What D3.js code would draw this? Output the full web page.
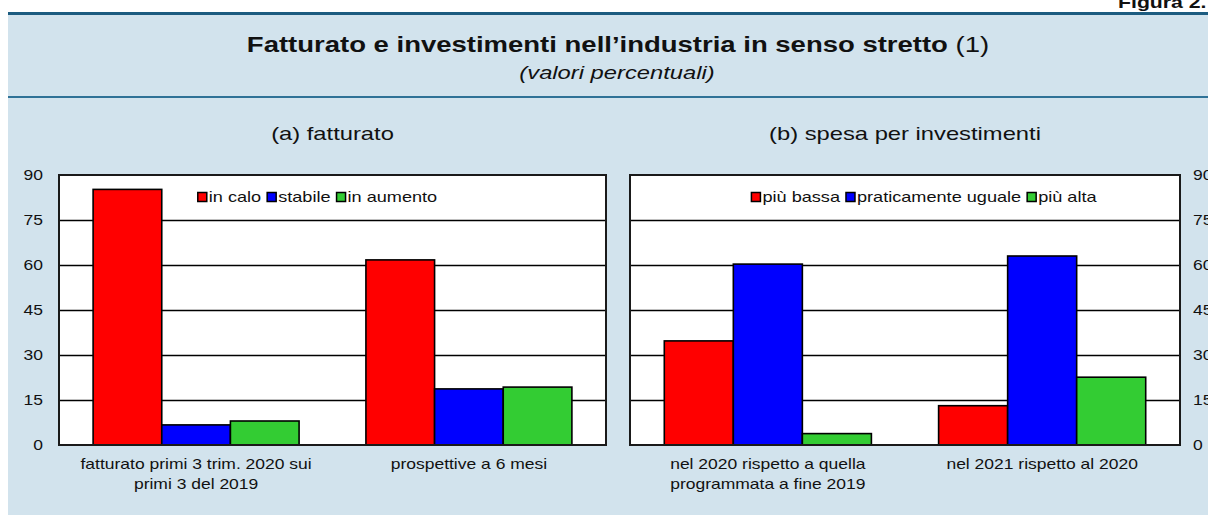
<!DOCTYPE html>
<html>
<head>
<meta charset="utf-8">
<script src="https://cdn.jsdelivr.net/npm/d3@7/dist/d3.min.js"></script>
<style>
  body { margin: 0; background: #fff; }
  svg { display: block; font-family: "Liberation Sans", Arial, sans-serif; }
</style>
</head>
<body>
<svg id="chart" width="1208" height="515"></svg>
<script>
// ---- data ----
var yTicks = [0, 15, 30, 45, 60, 75, 90];
var gridTicks = [15, 30, 45, 60, 75];

var catsA = [["fatturato primi 3 trim. 2020 sui", "primi 3 del 2019"], ["prospettive a 6 mesi"]];
var seriesA = ["in calo", "stabile", "in aumento"];
var inCalo = [85.2, 61.7];
var stabile = [6.7, 18.7];
var inAumento = [8, 19.3];

var catsB = [["nel 2020 rispetto a quella", "programmata a fine 2019"], ["nel 2021 rispetto al 2020"]];
var seriesB = ["più bassa", "praticamente uguale", "più alta"];
var piuBassa = [34.7, 13.1];
var uguale = [60.3, 63];
var piuAlta = [3.8, 22.6];

var colors = ["#ff0000", "#0000ff", "#33cc33"];

// text in the original is a bit wider than the font
var SX = 1.25;

var svg = d3.select("#chart");

// background + header
svg.append("rect").attr("x", 8).attr("y", 13).attr("width", 1200).attr("height", 502).attr("fill", "#d2e3ed");
svg.append("rect").attr("x", 8).attr("y", 12).attr("width", 1200).attr("height", 3).attr("fill", "#1c5c80");
svg.append("rect").attr("x", 8).attr("y", 96).attr("width", 1200).attr("height", 2).attr("fill", "#2f7297");

function stext(g, x, y, str) {
  return g.append("text")
    .attr("transform", "translate(" + x + "," + y + ") scale(" + SX + ",1)")
    .text(str);
}

stext(svg, 1118, 8, "Figura 2.").attr("font-weight", "bold").attr("font-size", 17).attr("fill", "#111");

var title = svg.append("text")
  .attr("transform", "translate(618,52) scale(" + SX + ",1)")
  .attr("text-anchor", "middle").attr("font-size", 22).attr("fill", "#111");
title.append("tspan").attr("font-weight", "bold").text("Fatturato e investimenti nell’industria in senso stretto ");
title.append("tspan").text("(1)");

stext(svg, 617, 79, "(valori percentuali)")
  .attr("text-anchor", "middle").attr("font-size", 19).attr("font-style", "italic").attr("fill", "#111");

var y = d3.scaleLinear().domain([0, 90]).range([445, 175]);

function drawPanel(opt) {
  var x0 = opt.x0, x1 = opt.x1, w = x1 - x0;
  var g = svg.append("g");
  var values = [opt.v0, opt.v1, opt.v2];
  var cats = d3.range(opt.cats.length);

  var xb = d3.scaleBand().domain(cats).range([x0, x1]).paddingInner(0.245).paddingOuter(0.125);
  var xs = d3.scaleBand().domain(d3.range(3)).range([0, xb.bandwidth()]);

  // plot box
  g.append("rect").attr("x", x0).attr("y", y(90)).attr("width", w).attr("height", y(0) - y(90)).attr("fill", "#fff");

  // grid
  var grid = g.append("g").attr("transform", "translate(" + x0 + ",0)")
    .call(d3.axisLeft(y).tickValues(gridTicks).tickSize(-w).tickFormat(""));
  grid.select(".domain").remove();
  grid.selectAll("line").attr("stroke", "#000").attr("stroke-width", 1.6);

  // bars
  cats.forEach(function (c) {
    values.forEach(function (vals, s) {
      g.append("rect")
        .attr("x", xb(c) + xs(s))
        .attr("y", y(vals[c]))
        .attr("width", xs.bandwidth())
        .attr("height", y(0) - y(vals[c]))
        .attr("fill", colors[s])
        .attr("stroke", "#000").attr("stroke-width", 1.6);
    });
  });

  // frame
  g.append("rect").attr("x", x0).attr("y", y(90)).attr("width", w).attr("height", y(0) - y(90))
    .attr("fill", "none").attr("stroke", "#1a1a1a").attr("stroke-width", 2);

  // y axis
  var ax = opt.side === "left" ? d3.axisLeft(y) : d3.axisRight(y);
  var axg = g.append("g").attr("transform", "translate(" + (opt.side === "left" ? x0 : x1) + ",0)")
    .call(ax.tickValues(yTicks).tickSize(0).tickFormat(d3.format("d")));
  axg.select(".domain").remove();
  axg.selectAll("text")
    .attr("font-size", 14).attr("fill", "#111").attr("font-family", null)
    .attr("x", (opt.side === "left" ? -16 : 13) / SX)
    .attr("transform", "scale(" + SX + ",1)");

  // category labels
  cats.forEach(function (c) {
    var cx = xb(c) + xb.bandwidth() / 2;
    opt.cats[c].forEach(function (line, i) {
      stext(g, cx, 469 + i * 20, line).attr("text-anchor", "middle").attr("font-size", 14).attr("fill", "#111");
    });
  });

  // panel title
  stext(g, (x0 + x1) / 2, 140, opt.title).attr("text-anchor", "middle").attr("font-size", 19).attr("fill", "#111");

  // legend
  var leg = g.append("g");
  var lx = 0;
  opt.series.forEach(function (name, s) {
    leg.append("rect").attr("x", lx).attr("y", -4.5).attr("width", 9).attr("height", 9)
      .attr("fill", colors[s]).attr("stroke", "#000").attr("stroke-width", 1.5);
    var t = stext(leg, lx + 11, 5, name).attr("font-size", 14.5).attr("fill", "#111");
    lx += 11 + t.node().getComputedTextLength() * SX + 6;
  });
  lx -= 6;
  leg.attr("transform", "translate(" + ((x0 + x1) / 2 - lx / 2 + opt.legShift) + ",197)");
}

drawPanel({ x0: 59, x1: 606, side: "left", cats: catsA, series: seriesA,
  v0: inCalo, v1: stabile, v2: inAumento, title: "(a) fatturato", legShift: -15 });
drawPanel({ x0: 630, x1: 1180, side: "right", cats: catsB, series: seriesB,
  v0: piuBassa, v1: uguale, v2: piuAlta, title: "(b) spesa per investimenti", legShift: 19 });
</script>
</body>
</html>
